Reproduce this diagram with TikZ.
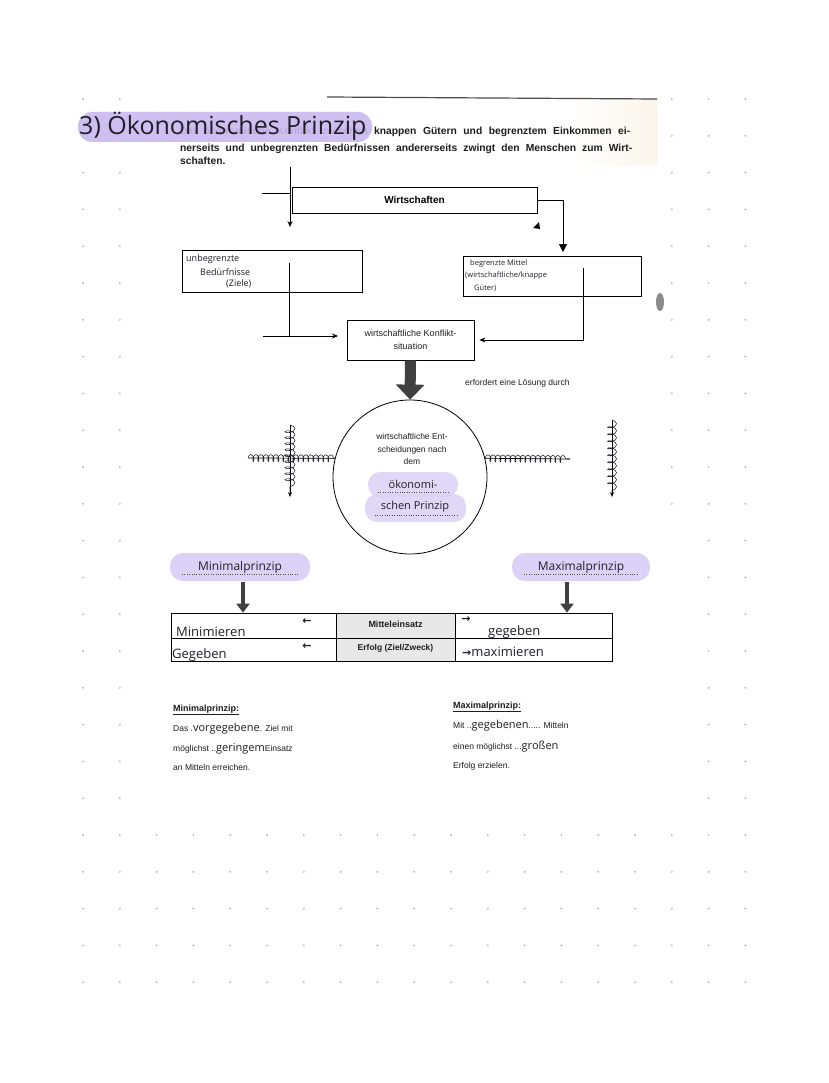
\documentclass[tikz,border=0pt]{standalone}
\usepackage{fontspec}
\setmainfont{Liberation Sans}
\newfontfamily\hand{Open Sans}
\newfontfamily\sym{DejaVu Sans}
\usetikzlibrary{arrows.meta,decorations.pathmorphing,calc}
\definecolor{hl}{HTML}{DCD2F7}
\definecolor{hltitle}{HTML}{C9B9EF}
\definecolor{dotc}{HTML}{BDBDBD}
\definecolor{ink}{HTML}{1E1E1E}
\definecolor{penink}{HTML}{1F1F2A}
\definecolor{cream}{HTML}{FAF5EA}
\begin{document}
\begin{tikzpicture}[x=1pt,y=-1pt,
  box/.style={draw=black, line width=0.8pt, inner sep=0pt},
  conn/.style={draw=black, line width=0.7pt, -{Stealth[length=6pt,width=5pt]}},
  plain/.style={draw=black, line width=0.7pt},
  pill/.style={fill=hl, rounded corners=12pt, inner sep=0pt},
  hw/.style={font=\hand\fontsize{9}{11}\selectfont, text=penink, inner sep=0pt},
  prt/.style={font=\fontsize{8.5}{12.5}\selectfont, text=ink, inner sep=0pt},
  scrib/.style={line width=0.55pt, draw=penink, decorate, decoration={coil, aspect=0.45, segment length=5pt, amplitude=3.5pt}},
  thick arrow/.style={line width=#1, draw=black!75}
]
\useasboundingbox (0,0) rectangle (828,1083);
\fill[white] (0,0) rectangle (828,1083);
% dot grid
\foreach \i in {0,...,18}{
  \foreach \j in {0,...,24}{
    \fill[dotc] ({83+36.8*\i},{99+36.8*\j}) circle (1.1);
  }
}
% scanned sheet
\fill[white] (135,92) rectangle (662,808);
\fill[white] (662,525) rectangle (682,808);
\shade[left color=white, right color=cream] (570,99) rectangle (657,165);
\draw[black!70, line width=1.2pt] (327,97) -- (657,99);
\fill[black!45] (660,302) ellipse (4 and 9);

% paragraph
\node[anchor=base west, font=\bfseries\fontsize{10.3}{12}\selectfont, text=ink, inner sep=0pt] (p1) at (180,135) {\makebox[450pt][s]{Der ökonomische Konflikt zwischen knappen Gütern und begrenztem Einkommen ei-}};
\node[anchor=base west, font=\bfseries\fontsize{10.3}{12}\selectfont, text=ink, inner sep=0pt] (p2) at (180,151.5) {\makebox[452pt][s]{nerseits und unbegrenzten Bedürfnissen andererseits zwingt den Menschen zum Wirt-}};
\node[anchor=base west, font=\bfseries\fontsize{10.3}{12}\selectfont, text=ink, inner sep=0pt] (p3) at (180,164.5) {schaften.};

% title
\node[pill, fill=hltitle, fill opacity=0.9, rounded corners=14pt, minimum width=294, minimum height=30] (tb) at (225,127) {};
\node[anchor=west, font=\hand\fontsize{25}{28}\selectfont, text=penink, inner sep=0pt] (title) at (79,126) {3) Ökonomisches Prinzip};

% Wirtschaften
\node[box, minimum width=245, minimum height=26, font=\bfseries\fontsize{10}{12}\selectfont] (w) at (414.5,200) {Wirtschaften};
\coordinate (tl) at (290,167);
\coordinate (tlend) at (290,227);
\coordinate (stub) at (262,193);
\draw[conn] (tl) -- (tlend);
\draw[plain] (stub) -- (tl |- stub);
\coordinate (rarr) at (563,252);
\draw[conn, -{Triangle[length=8pt,width=8pt]}] (w.east) -| (rarr);
\fill[black] (533,228) -- (539,222) -- (540,229) -- cycle;

% left and right boxes
\node[box, minimum width=180, minimum height=42] (ub) at (272,271) {};
\node[hw, anchor=west] (ub1) at (186,259) {unbegrenzte};
\node[hw, anchor=west] (ub2) at (200,272) {Bedürfnisse};
\node[hw, anchor=west] (ub3) at (226,284) {(Ziele)};
\node[box, minimum width=178, minimum height=40] (bm) at (552,276) {};
\node[hw, anchor=west, font=\hand\fontsize{7.5}{9}\selectfont] (bm1) at (470,264) {begrenzte Mittel};
\node[hw, anchor=west, font=\hand\fontsize{7.5}{9}\selectfont] (bm2) at (465,276) {(wirtschaftliche/knappe};
\node[hw, anchor=west, font=\hand\fontsize{7.5}{9}\selectfont] (bm3) at (474,288) {Güter)};

% Konflikt box
\node[box, minimum width=127, minimum height=40, align=center, prt, font=\fontsize{9}{12.5}\selectfont] (k) at (410.5,340) {wirtschaftliche Konflikt-\\situation};
\coordinate (lv) at (289,263);
\coordinate (lh) at (263,336);
\draw[plain] (lv) -- (lv |- lh);
\draw[conn] (lh) -- (338,336);
\coordinate (rv) at (583,268);
\draw[conn, shorten >=5pt] (rv) |- (k.east);

\node[prt, anchor=west] (erf) at (465,383) {erfordert eine Lösung durch};

% circle
\node[circle, draw=black, line width=0.8pt, minimum size=154, inner sep=0pt] (c) at (410,477) {};
\draw[thick arrow=11pt, -{Triangle[length=15pt,width=28pt]}] (k.south) -- (c.north);
\node[prt, align=center] (ct) at (412,449) {wirtschaftliche Ent-\\scheidungen nach\\dem};
\node[pill, fill opacity=0.85, minimum width=90, minimum height=25] (ok1) at (413,484.5) {};
\node[pill, fill opacity=0.85, minimum width=101, minimum height=28] (ok2) at (415.5,508) {};
\node[hw, font=\hand\fontsize{11}{13}\selectfont] (okt1) at (413,484) {ökonomi-};
\node[hw, font=\hand\fontsize{11}{13}\selectfont] (okt2) at (415,507) {schen Prinzip};
\draw[dotted, black!70] (378,492) -- (450,492);
\draw[dotted, black!70] (375,515) -- (458,515);

% crossed-out lines
\coordinate (sl) at (248,458);
\draw[plain] (sl) -- (c.166);
\draw[scrib] (sl) -- (c.166);
\coordinate (sv1) at (290,425);
\coordinate (sv2) at (290,497);
\draw[conn, -{Stealth[length=5pt,width=4pt]}] (sv1) -- (sv2);
\draw[scrib, decoration={coil, aspect=0.45, segment length=6pt, amplitude=5pt}] (sv1) -- (290,492);
\coordinate (sr) at (570,459);
\draw[plain] (c.14) -- (sr);
\draw[scrib] (c.14) -- (sr);
\coordinate (sw1) at (612,420);
\coordinate (sw2) at (612,497);
\draw[conn, -{Stealth[length=5pt,width=4pt]}] (sw1) -- (sw2);
\draw[scrib, decoration={coil, aspect=0.45, segment length=7pt, amplitude=4.5pt}] (sw1) -- (612,492);

% Minimal / Maximal pills
\node[pill, minimum width=140, minimum height=28, rounded corners=13pt, hw, font=\hand\fontsize{12}{14}\selectfont] (mini) at (240,567) {Minimalprinzip};
\node[pill, minimum width=138, minimum height=28, rounded corners=13pt, hw, font=\hand\fontsize{12}{14}\selectfont] (maxi) at (581,567) {Maximalprinzip};
\draw[dotted, black!70] (182,574) -- (298,574);
\draw[dotted, black!70] (524,574) -- (638,574);

% table
\fill[black!9] (336,613) rectangle (455,661);
\node[box, minimum width=441, minimum height=48] (tab) at (391.5,637) {};
\draw[plain] (171,638) -- (612,638);
\draw[plain] (336,613) -- (336,661);
\draw[plain] (455,613) -- (455,661);
\coordinate (ma) at (243,582);
\coordinate (mb) at (567,582);
\draw[thick arrow=4pt, -{Triangle[length=9pt,width=13pt]}] (ma) -- (ma |- tab.north);
\draw[thick arrow=4pt, -{Triangle[length=9pt,width=13pt]}] (mb) -- (mb |- tab.north);
\node[font=\bfseries\fontsize{9}{11}\selectfont, text=ink, inner sep=0pt] (mit) at (395.5,624) {Mitteleinsatz};
\node[font=\bfseries\fontsize{8.5}{11}\selectfont, text=ink, inner sep=0pt] (erfz) at (395.5,648) {Erfolg (Ziel/Zweck)};
\node[font=\sym\bfseries\fontsize{11}{12}\selectfont, text=ink, inner sep=0pt] (la1) at (307,622) {←};
\node[font=\sym\bfseries\fontsize{11}{12}\selectfont, text=ink, inner sep=0pt] (la2) at (307,647) {←};
\node[font=\sym\bfseries\fontsize{11}{12}\selectfont, text=ink, inner sep=0pt] (ra1) at (466,620) {→};
\node[hw, anchor=west, font=\hand\fontsize{13}{15}\selectfont] (mn) at (176,632) {Minimieren};
\node[hw, anchor=west, font=\hand\fontsize{13}{15}\selectfont] (gg) at (172,655) {Gegeben};
\node[hw, anchor=west, font=\hand\fontsize{13}{15}\selectfont] (gg2) at (488,632) {gegeben};
\node[hw, anchor=west, font=\hand\fontsize{13}{15}\selectfont] (mx) at (462,652) {{\sym\bfseries\fontsize{11}{12}\selectfont →}maximieren};

% bottom text
\node[prt, anchor=base west, font=\bfseries\fontsize{9}{11}\selectfont] (minh) at (173,711) {\underline{Minimalprinzip:}};
\node[prt, anchor=base west] (m1) at (173,731) {Das .{\hand\fontsize{11}{12}\selectfont vorgegebene}. Ziel mit};
\node[prt, anchor=base west] (m2) at (173,751) {möglichst ..{\hand\fontsize{11}{12}\selectfont geringem}Einsatz};
\node[prt, anchor=base west] (m3) at (173,770) {an Mitteln erreichen.};
\node[prt, anchor=base west, font=\bfseries\fontsize{9}{11}\selectfont] (maxh) at (453,708) {\underline{Maximalprinzip:}};
\node[prt, anchor=base west] (x1) at (453,728) {Mit ..{\hand\fontsize{11}{12}\selectfont gegebenen}..... Mitteln};
\node[prt, anchor=base west] (x2) at (453,749) {einen möglichst ...{\hand\fontsize{11}{12}\selectfont großen}};
\node[prt, anchor=base west] (x3) at (453,768) {Erfolg erzielen.};
\end{tikzpicture}
\end{document}
